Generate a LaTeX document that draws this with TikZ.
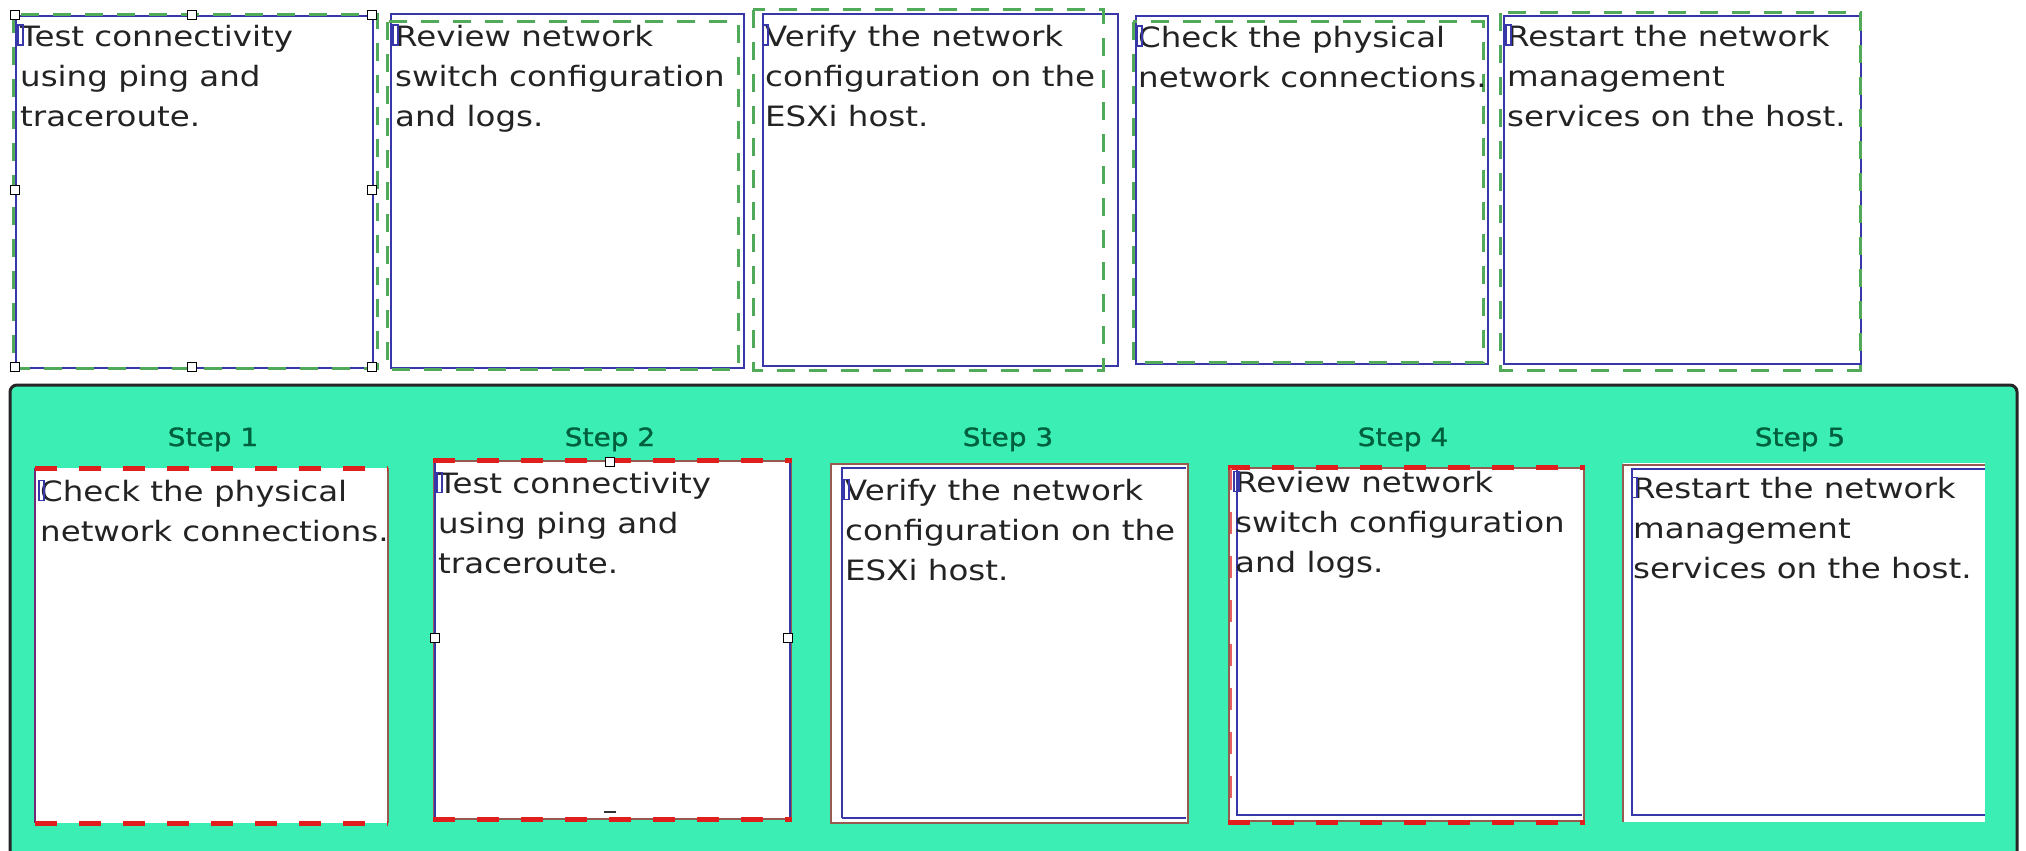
\documentclass[tikz,border=0pt]{standalone}
\usepackage{fontspec}
\newfontfamily\boxfont[FakeStretch=1.16]{DejaVu Sans}
\newfontfamily\stepfont[FakeStretch=1.12,FakeBold=1.2]{DejaVu Sans}
\definecolor{panelteal}{RGB}{58,238,180}
\definecolor{boxblue}{RGB}{55,55,170}
\definecolor{dashgreen}{RGB}{80,170,90}
\definecolor{dashred}{RGB}{225,30,30}
\definecolor{edgebrown}{RGB}{150,90,80}
\definecolor{steptext}{RGB}{0,95,60}
\definecolor{bodytext}{RGB}{35,35,35}
\begin{document}
\begin{tikzpicture}[x=1pt,y=-1pt,
  bluebox/.style={draw=boxblue, line width=2pt, fill=white, inner sep=0pt, anchor=north west},
  greendash/.style={draw=dashgreen, line width=3pt, dash pattern=on 18pt off 14pt},
  reddash/.style={draw=dashred, line width=5pt, dash pattern=on 22pt off 22pt},
  brownedge/.style={draw=edgebrown, line width=2pt},
  blueedge/.style={draw=boxblue, line width=2pt},
  handle/.style={draw=black, fill=white, line width=1.2pt, minimum size=9pt, inner sep=0pt},
  cursor/.style={draw=boxblue, line width=1.5pt, inner sep=0pt, minimum width=5pt, minimum height=20pt, anchor=south west},
  boxtext/.style={anchor=north west, inner sep=0pt, align=left, text=bodytext,
    font=\boxfont\fontsize{28}{40}\selectfont},
  steplabel/.style={anchor=base, inner sep=0pt, text=steptext, font=\stepfont\fontsize{25}{30}\selectfont}
]
\useasboundingbox (0,0) rectangle (2026,851);
\fill[white] (0,0) rectangle (2026,851);

% ---------- top row ----------
\node[bluebox, minimum width=357pt, minimum height=352pt] (t1) at (15,15) {};
\node[bluebox, minimum width=353pt, minimum height=354pt] (t2) at (390,13) {};
\node[bluebox, minimum width=355pt, minimum height=352pt] (t3) at (762,13) {};
\node[bluebox, minimum width=352pt, minimum height=348pt] (t4) at (1135,15) {};
\node[bluebox, minimum width=357pt, minimum height=348pt] (t5) at (1503,15) {};

\draw[greendash] (13,15) rectangle (377,368);
\draw[greendash] (387,22) rectangle (738,369);
\draw[greendash] (753,10) rectangle (1103,370);
\draw[greendash] (1133,22) rectangle (1483,362);
\draw[greendash] (1500,13) rectangle (1860,370);

\node[boxtext] (t1txt) at (20,25) {Test connectivity\\using ping and\\traceroute.};
\node[boxtext] (t2txt) at (395,25) {Review network\\switch configuration\\and logs.};
\node[boxtext] (t3txt) at (765,25) {Verify the network\\configuration on the\\ESXi host.};
\node[boxtext] (t4txt) at (1138,26) {Check the physical\\network connections.};
\node[boxtext] (t5txt) at (1507,25) {Restart the network\\management\\services on the host.};

\node[cursor] (c1) at (17,46) {};
\node[cursor] (c2) at (392,46) {};
\node[cursor] (c3) at (762,46) {};
\node[cursor] (c4) at (1136,47) {};
\node[cursor] (c5) at (1505,46) {};

% selection handles on first box
\foreach \hx/\hy [count=\i] in {15/15,192/15,372/15,15/190,372/190,15/367,192/367,372/367}
  \node[handle] (h\i) at (\hx,\hy) {};

% ---------- answer panel ----------
\draw[fill=panelteal, draw=black!85, line width=3pt, rounded corners=7pt] (10,385) rectangle (2017,880);

\node[steplabel] (s1) at (213,446) {Step 1};
\node[steplabel] (s2) at (610,446) {Step 2};
\node[steplabel] (s3) at (1008,446) {Step 3};
\node[steplabel] (s4) at (1403,446) {Step 4};
\node[steplabel] (s5) at (1800,446) {Step 5};

% box B1
\node[anchor=north west, fill=white, inner sep=0pt, minimum width=353pt, minimum height=355pt] (b1) at (35,468) {};
\draw[draw=boxblue!70!red, line width=2.5pt] (b1.north west) -- (b1.south west);
\draw[brownedge] (b1.north east) -- (b1.south east);
\draw[reddash] (b1.north west) -- (b1.north east);
\draw[reddash] (b1.south west) -- (b1.south east);

% box B2
\node[anchor=north west, fill=white, draw=edgebrown, line width=1.5pt, inner sep=0pt, minimum width=357pt, minimum height=358pt] (b2) at (433,460) {};
\draw[blueedge] ([xshift=2pt]b2.north west) -- ([xshift=2pt]b2.south west);
\draw[blueedge] ([xshift=-2pt]b2.north east) -- ([xshift=-2pt]b2.south east);
\draw[reddash] (b2.north west) -- (b2.north east);
\draw[reddash] (b2.south west) -- (b2.south east);
\node[handle] (hb1) at (610,462) {};
\node[handle] (hb2) at (435,638) {};
\node[handle] (hb3) at (788,638) {};
\draw[line width=2.5pt, black!80] (604,812) -- (616,812);

% box B3
\node[anchor=north west, fill=white, draw=edgebrown, line width=2pt, inner sep=0pt, minimum width=357pt, minimum height=359pt] (b3) at (830,463) {};
\draw[blueedge] (842,818) -- (842,468) -- (1186,468);
\draw[blueedge] (842,818) -- (1186,818);

% box B4
\node[anchor=north west, fill=white, draw=edgebrown, line width=2pt, inner sep=0pt, minimum width=355pt, minimum height=353pt] (b4) at (1228,467) {};
\draw[blueedge] (1237,470) -- (1237,815) -- (1582,815);
\draw[reddash] (b4.north west) -- (b4.north east);
\draw[reddash] (b4.south west) -- (b4.south east);
\draw[draw=dashred!70, line width=2.5pt, dash pattern=on 22pt off 22pt] (1231,468) -- (1231,820);

% box B5 (open on the right)
\fill[white] (1623,463) rectangle (1985,822);
\draw[brownedge] (1985,465) -- (1623,465) -- (1623,822);
\draw[blueedge] (1985,469) -- (1632,469) -- (1632,815) -- (1985,815);

\node[boxtext] (b1txt) at (40,480) {Check the physical\\network connections.};
\node[boxtext] (b2txt) at (438,472) {Test connectivity\\using ping and\\traceroute.};
\node[boxtext] (b3txt) at (845,479) {Verify the network\\configuration on the\\ESXi host.};
\node[boxtext] (b4txt) at (1235,471) {Review network\\switch configuration\\and logs.};
\node[boxtext] (b5txt) at (1633,477) {Restart the network\\management\\services on the host.};

\node[cursor] (d1) at (38,501) {};
\node[cursor] (d2) at (436,493) {};
\node[cursor] (d3) at (843,500) {};
\node[cursor] (d4) at (1233,492) {};
\node[cursor] (d5) at (1631,498) {};
\end{tikzpicture}
\end{document}
